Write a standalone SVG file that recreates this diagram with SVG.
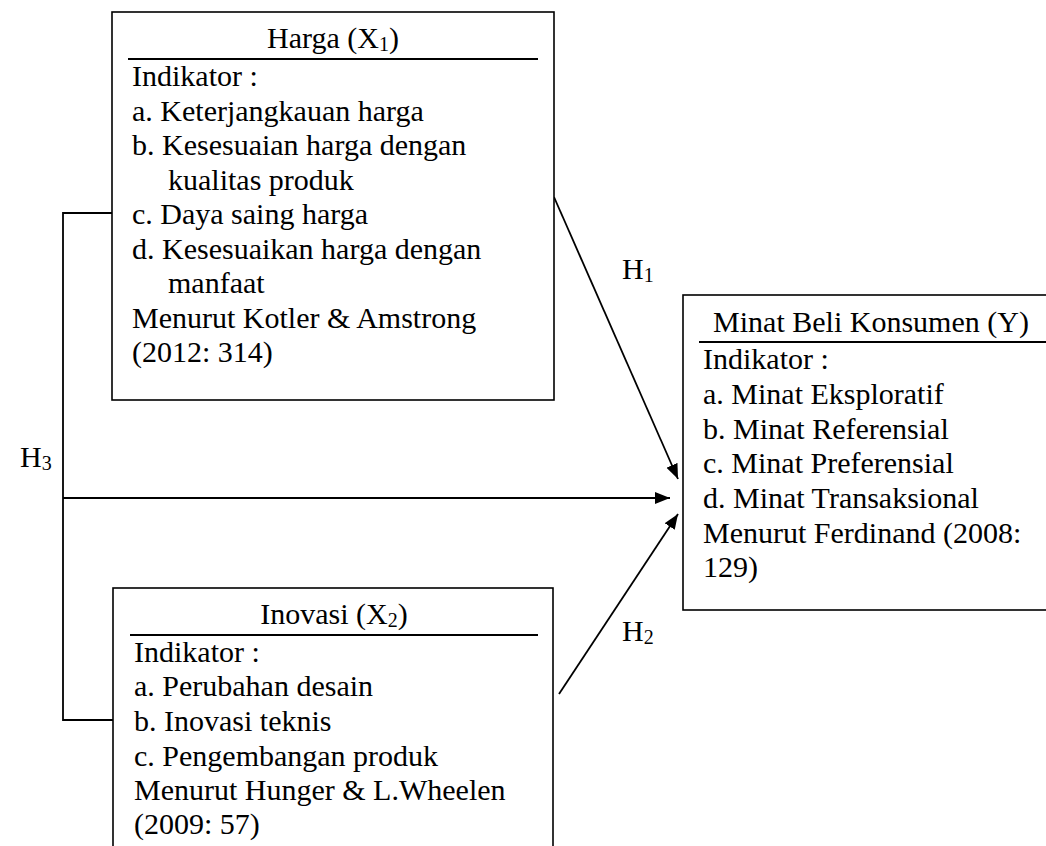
<svg xmlns="http://www.w3.org/2000/svg" width="1046" height="846" viewBox="0 0 1046 846">
<style>
text{font-family:"Liberation Serif","Times New Roman",serif;font-size:30px;fill:#000}
.box{fill:#fff;stroke:#000;stroke-width:1.6}
.hdr{stroke:#000;stroke-width:1.8}
.ln{fill:none;stroke:#000;stroke-width:1.8}
.t{text-anchor:middle}
.sub{font-size:20px}
</style>
<defs>
<marker id="ah" markerUnits="userSpaceOnUse" markerWidth="16" markerHeight="14" refX="15" refY="6" orient="auto">
<path d="M0,0 L15,6 L0,12 Z" fill="#000"/>
</marker>
</defs>
<g id="connectors">
<polyline class="ln" points="112,213 63,213 63,720 113,720"/>
<line class="ln" x1="63" y1="498" x2="670" y2="498" marker-end="url(#ah)"/>
<line class="ln" x1="554" y1="197" x2="678" y2="479" marker-end="url(#ah)"/>
<line class="ln" x1="559" y1="694" x2="678" y2="514" marker-end="url(#ah)"/>
<text x="622" y="279">H<tspan class="sub" dy="3">1</tspan></text>
<text x="622" y="641">H<tspan class="sub" dy="3">2</tspan></text>
<text x="20" y="467">H<tspan class="sub" dy="3">3</tspan></text>
</g>
<g id="harga">
<rect class="box" x="112" y="12" width="442" height="388"/>
<text class="t" x="333" y="48">Harga (X<tspan class="sub" dy="3">1</tspan><tspan dy="-3">)</tspan></text>
<line class="hdr" x1="128" y1="59" x2="538" y2="59"/>
<text x="132" y="86">Indikator :</text>
<text x="132" y="120.5">a. Keterjangkauan harga</text>
<text x="132" y="155">b. Kesesuaian harga dengan</text>
<text x="168" y="189.5">kualitas produk</text>
<text x="132" y="224">c. Daya saing harga</text>
<text x="132" y="258.5">d. Kesesuaikan harga dengan</text>
<text x="168" y="293">manfaat</text>
<text x="132" y="327.5">Menurut Kotler &amp; Amstrong</text>
<text x="132" y="362">(2012: 314)</text>
</g>
<g id="minat">
<rect class="box" x="683" y="295" width="370" height="315"/>
<text class="t" x="871" y="332">Minat Beli Konsumen (Y)</text>
<line class="hdr" x1="699" y1="342" x2="1046" y2="342"/>
<text x="703" y="369">Indikator :</text>
<text x="703" y="404">a. Minat Eksploratif</text>
<text x="703" y="439">b. Minat Referensial</text>
<text x="703" y="473">c. Minat Preferensial</text>
<text x="703" y="508">d. Minat Transaksional</text>
<text x="703" y="543">Menurut Ferdinand (2008:</text>
<text x="703" y="577">129)</text>
</g>
<g id="inovasi">
<rect class="box" x="113" y="588" width="440" height="280"/>
<text class="t" x="334" y="624">Inovasi (X<tspan class="sub" dy="3">2</tspan><tspan dy="-3">)</tspan></text>
<line class="hdr" x1="130" y1="635" x2="538" y2="635"/>
<text x="134" y="662">Indikator :</text>
<text x="134" y="696">a. Perubahan desain</text>
<text x="134" y="731">b. Inovasi teknis</text>
<text x="134" y="766">c. Pengembangan produk</text>
<text x="134" y="800">Menurut Hunger &amp; L.Wheelen</text>
<text x="134" y="834">(2009: 57)</text>
</g>
</svg>
